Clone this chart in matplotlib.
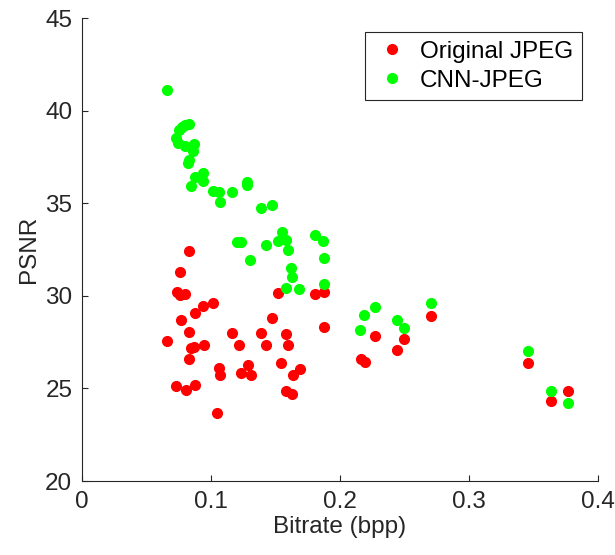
import matplotlib
matplotlib.use("Agg")
import matplotlib.pyplot as plt

# bitrate (bpp) and PSNR
orig_bpp = [0.083, 0.0763, 0.0739, 0.0757, 0.080, 0.0873, 0.0937, 0.1014,
            0.077, 0.083, 0.0663, 0.0846, 0.0867, 0.0947, 0.0827, 0.073,
            0.081, 0.088, 0.1047, 0.106, 0.107, 0.1166, 0.1215, 0.1234,
            0.129, 0.1307, 0.1386, 0.1426, 0.147, 0.152, 0.154, 0.158,
            0.160, 0.1579, 0.163, 0.164, 0.169, 0.181, 0.1875, 0.188,
            0.216, 0.2195, 0.2275, 0.244, 0.250, 0.2708, 0.3456, 0.364, 0.377]
orig_psnr = [32.45, 31.29, 30.23, 30.04, 30.08, 29.09, 29.47, 29.6,
             28.7, 28.07, 27.56, 27.21, 27.25, 27.36, 26.58, 25.11,
             24.92, 25.16, 23.67, 26.1, 25.74, 28.0, 27.34, 25.83,
             26.29, 25.72, 28.0, 27.36, 28.78, 30.18, 26.35, 27.92,
             27.36, 24.86, 24.72, 25.72, 26.06, 30.12, 30.23, 28.3,
             26.6, 26.45, 27.82, 27.06, 27.65, 28.93, 26.35, 24.34, 24.86]

cnn_bpp = [0.0663, 0.0754, 0.0776, 0.080, 0.083, 0.0733, 0.0745, 0.080,
           0.087, 0.086, 0.083, 0.0825, 0.0876, 0.0937, 0.0937, 0.0846,
           0.1014, 0.106, 0.107, 0.1166, 0.128, 0.1276, 0.1386, 0.147,
           0.1206, 0.1234, 0.130, 0.143, 0.1548, 0.1524, 0.158, 0.160,
           0.1624, 0.163, 0.158, 0.1685, 0.181, 0.187, 0.188, 0.1875,
           0.2153, 0.219, 0.2275, 0.244, 0.250, 0.2708, 0.3456, 0.364, 0.377]
cnn_psnr = [41.12, 38.97, 39.13, 39.25, 39.3, 38.5, 38.25, 38.08,
            38.2, 37.83, 37.35, 37.2, 36.43, 36.64, 36.2, 35.91,
            35.68, 35.63, 35.05, 35.63, 36.16, 35.97, 34.73, 34.92,
            32.89, 32.93, 31.95, 32.76, 33.47, 32.99, 33.04, 32.47,
            31.51, 31.04, 30.41, 30.37, 33.27, 32.97, 32.03, 30.65,
            28.13, 28.97, 29.41, 28.68, 28.26, 29.6, 27.02, 24.88, 24.21]

xticks = [0, 0.1, 0.2, 0.3, 0.4]
xlabels = ["0", "0.1", "0.2", "0.3", "0.4"]
yticks = [20, 25, 30, 35, 40, 45]

FS = 17.5
plt.rcParams["font.family"] = ["Liberation Sans", "DejaVu Sans"]
plt.rcParams["font.size"] = FS

fig = plt.figure(figsize=(6.15, 5.55), dpi=100)
ax = fig.add_axes([0.1333, 0.1333, 0.8387, 0.834])

ax.plot(orig_bpp, orig_psnr, "o", color=(1, 0, 0), markersize=7,
        label="Original JPEG")
ax.plot(cnn_bpp, cnn_psnr, "o", color=(0, 1, 0), markersize=7,
        label="CNN-JPEG")

ax.set_xlim(0, 0.4)
ax.set_ylim(20, 45)
ax.set_xticks(xticks)
ax.set_xticklabels(xlabels)
ax.set_yticks(yticks)
ax.set_xlabel("Bitrate (bpp)", color="#262626", labelpad=2)
ax.set_ylabel("PSNR", color="#262626", labelpad=4)

for side in ["top", "right"]:
  ax.spines[side].set_visible(False)
for side in ["left", "bottom"]:
  ax.spines[side].set_color("#262626")
  ax.spines[side].set_linewidth(0.8)
ax.tick_params(direction="in", length=4, width=0.8, colors="#262626",
               labelsize=FS)
ax.tick_params(axis="x", pad=7)
ax.tick_params(axis="y", pad=7)

leg = ax.legend(loc="upper right", bbox_to_anchor=(0.969, 0.970),
                borderaxespad=0, fancybox=False, framealpha=1,
                edgecolor="#262626", fontsize=FS, handletextpad=0.4,
                borderpad=0.35, handlelength=1.5, labelspacing=0.3)
leg.get_frame().set_linewidth(0.8)

fig.savefig("out.png", dpi=100)
